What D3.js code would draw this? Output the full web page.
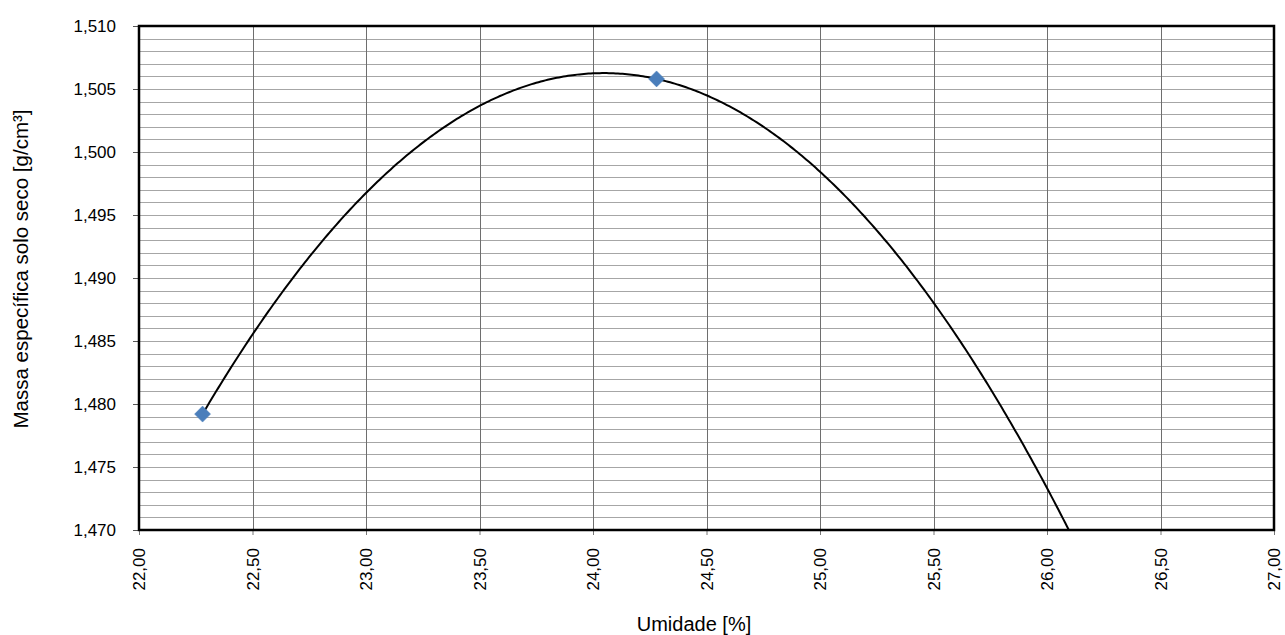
<!DOCTYPE html>
<html>
<head>
<meta charset="utf-8">
<script src="https://cdn.jsdelivr.net/npm/d3@7"></script>
<style>
  html, body { margin: 0; padding: 0; background: #fff; }
  svg { display: block; }
  .tick-label { font-family: "Liberation Sans", Arial, sans-serif; font-size: 17px; fill: #000; }
  .axis-title { font-family: "Liberation Sans", Arial, sans-serif; font-size: 20px; fill: #000; }
</style>
</head>
<body>
<script>
// Compaction test: moisture content vs. dry density
const moisture = [22.28, 24.28, 26.28];          // Umidade [%]
const dryDensity = [1.4792, 1.5058, 1.4632];     // g/cm³

const xTicks = [22.0, 22.5, 23.0, 23.5, 24.0, 24.5, 25.0, 25.5, 26.0, 26.5, 27.0];
const yTicks = [1.470, 1.475, 1.480, 1.485, 1.490, 1.495, 1.500, 1.505, 1.510];
const yMinorStep = 0.001;

const W = 1285, H = 635;
const margin = { left: 139, right: 11, top: 26, bottom: 105 };

const svg = d3.select("body").append("svg").attr("width", W).attr("height", H);

const x = d3.scaleLinear().domain([22, 27]).range([margin.left, W - margin.right]);
const y = d3.scaleLinear().domain([1.470, 1.510]).range([H - margin.bottom, margin.top]);

const fmt2 = v => d3.format(".2f")(v).replace(".", ",");
const fmt3 = v => d3.format(".3f")(v).replace(".", ",");

// Minor horizontal grid
const minor = d3.range(1.470, 1.5105, yMinorStep);
svg.append("g").selectAll("line").data(minor).join("line")
  .attr("x1", x(22)).attr("x2", x(27))
  .attr("y1", d => Math.round(y(d)) + 0.5).attr("y2", d => Math.round(y(d)) + 0.5)
  .attr("stroke", "#a6a6a6").attr("stroke-width", 1);

// Vertical grid
svg.append("g").selectAll("line").data(xTicks).join("line")
  .attr("x1", d => Math.round(x(d)) + 0.5).attr("x2", d => Math.round(x(d)) + 0.5)
  .attr("y1", y(1.510)).attr("y2", y(1.470))
  .attr("stroke", "#6e6e6e").attr("stroke-width", 1);

// Y axis with outward ticks
const yAxis = d3.axisLeft(y).tickValues(yTicks).tickFormat(fmt3).tickSize(6).tickPadding(17);
const gy = svg.append("g").attr("transform", `translate(${x(22)},0)`).call(yAxis);
gy.select(".domain").remove();
gy.selectAll(".tick line").attr("stroke", "#555");
gy.selectAll(".tick text").attr("class", "tick-label").attr("font-family", null).attr("font-size", null);

// X axis with rotated labels
const xAxis = d3.axisBottom(x).tickValues(xTicks).tickFormat(fmt2).tickSize(5).tickPadding(0);
const gx = svg.append("g").attr("transform", `translate(0,${y(1.470)})`).call(xAxis);
gx.select(".domain").remove();
gx.selectAll(".tick line").attr("stroke", "#777");
gx.selectAll(".tick text")
  .attr("class", "tick-label").attr("font-family", null).attr("font-size", null)
  .attr("transform", "rotate(-90)")
  .attr("x", -18).attr("y", 0).attr("dy", "0.35em")
  .attr("text-anchor", "end");

// Plot border
svg.append("rect")
  .attr("x", x(22)).attr("y", y(1.510))
  .attr("width", x(27) - x(22)).attr("height", y(1.470) - y(1.510))
  .attr("fill", "none").attr("stroke", "#000").attr("stroke-width", 2.5);

// Second-order polynomial trendline (least squares)
function polyFit2(xs, ys) {
  const n = xs.length;
  let s = [0, 0, 0, 0, 0], t = [0, 0, 0];
  for (let i = 0; i < n; i++) {
    for (let k = 0; k <= 4; k++) s[k] += Math.pow(xs[i], k);
    for (let k = 0; k <= 2; k++) t[k] += ys[i] * Math.pow(xs[i], k);
  }
  const A = [[s[0], s[1], s[2]], [s[1], s[2], s[3]], [s[2], s[3], s[4]]];
  const b = t.slice();
  for (let i = 0; i < 3; i++) {
    for (let j = i + 1; j < 3; j++) {
      const f = A[j][i] / A[i][i];
      for (let k = i; k < 3; k++) A[j][k] -= f * A[i][k];
      b[j] -= f * b[i];
    }
  }
  const c = [0, 0, 0];
  for (let i = 2; i >= 0; i--) {
    let sum = b[i];
    for (let k = i + 1; k < 3; k++) sum -= A[i][k] * c[k];
    c[i] = sum / A[i][i];
  }
  return v => c[0] + c[1] * v + c[2] * v * v;
}
const trend = polyFit2(moisture, dryDensity);
const xsTrend = d3.range(d3.min(moisture), d3.max(moisture) + 1e-9, 0.01);

svg.append("clipPath").attr("id", "plot-clip").append("rect")
  .attr("x", x(22)).attr("y", y(1.510))
  .attr("width", x(27) - x(22)).attr("height", y(1.470) - y(1.510));

svg.append("path")
  .datum(xsTrend)
  .attr("clip-path", "url(#plot-clip)")
  .attr("fill", "none").attr("stroke", "#000").attr("stroke-width", 2)
  .attr("d", d3.line().x(d => x(d)).y(d => y(trend(d))).curve(d3.curveLinear));

// Data markers (diamonds)
const pts = moisture.map((m, i) => ({ m, v: dryDensity[i] }))
  .filter(p => p.v >= 1.470 && p.v <= 1.510 && p.m >= 22 && p.m <= 27);
svg.append("g").selectAll("path").data(pts).join("path")
  .attr("transform", d => `translate(${x(d.m)},${y(d.v)})`)
  .attr("d", "M0,-8L8,0L0,8L-8,0Z")
  .attr("fill", "#4a7ebb").attr("stroke", "#4a7ebb").attr("stroke-width", 0.5);

// Axis titles
svg.append("text").attr("class", "axis-title")
  .attr("x", 694).attr("y", 631)
  .attr("text-anchor", "middle")
  .text("Umidade [%]");

svg.append("text").attr("class", "axis-title")
  .attr("transform", "translate(28,269) rotate(-90)")
  .attr("text-anchor", "middle")
  .style("font-size", "20.5px")
  .text("Massa específica solo seco [g/cm³]");
</script>
</body>
</html>
